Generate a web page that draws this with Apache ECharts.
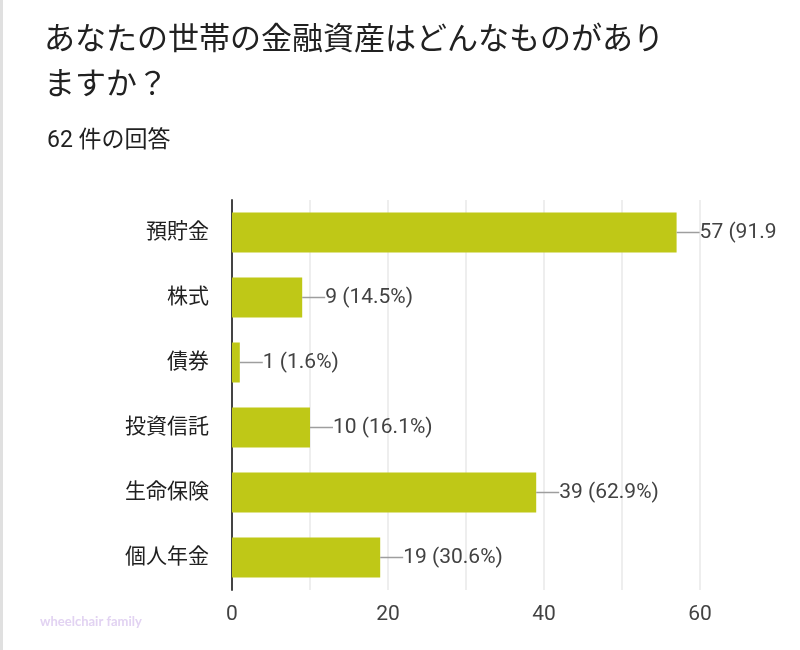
<!DOCTYPE html>
<html><head><meta charset="utf-8">
<script src="https://cdn.jsdelivr.net/npm/echarts@6/dist/echarts.min.js"></script>
<style>html,body{margin:0;padding:0;background:#fff}#c{width:800px;height:650px}</style>
</head><body><div id="c"></div>
<script>
const categories = ['預貯金', '株式', '債券', '投資信託', '生命保険', '個人年金'];
const counts = [57, 9, 1, 10, 39, 19];
const percents = ['91.9', '14.5', '1.6', '16.1', '62.9', '30.6'];
const xTicks = [0, 20, 40, 60];
const titleLines = ['あなたの世帯の金融資産はどんなものがあり', 'ますか？'];
const subtitle = '62 件の回答';
const watermark = 'wheelchair family';

const FONT = 'Roboto, "Noto Sans CJK JP", sans-serif';
const chart = echarts.init(document.getElementById('c'), null, {renderer: 'canvas'});
chart.setOption({
  backgroundColor: '#fff',
  animation: false,
  title: [
    {text: titleLines.join('\n'), left: 44, top: 19, padding: 0,
     textStyle: {fontFamily: FONT, fontSize: 31, fontWeight: 'normal', color: '#212121', lineHeight: 45}},
    {text: subtitle, left: 47, top: 130, padding: 0,
     textStyle: {fontFamily: FONT, fontSize: 23, fontWeight: 'normal', color: '#212121'}}
  ],
  grid: {left: 232, top: 200, width: 468, height: 390, containLabel: false},
  xAxis: {
    type: 'value', min: 0, max: 60, interval: 10,
    axisLine: {show: false}, axisTick: {show: false},
    splitLine: {show: true, lineStyle: {color: '#e8e8e8', width: 1.5}},
    axisLabel: {fontFamily: FONT, fontSize: 21, color: '#424242', margin: 14,
      formatter: v => xTicks.indexOf(v) >= 0 ? String(v) : ''}
  },
  yAxis: {
    type: 'category', data: categories, inverse: true,
    axisLine: {show: true, lineStyle: {color: '#444', width: 2}},
    axisTick: {show: false},
    axisLabel: {fontFamily: FONT, fontSize: 21, color: '#212121', margin: 23}
  },
  series: [{
    type: 'bar', data: counts, barWidth: 40,
    itemStyle: {color: '#bfc817'},
    label: {
      show: true, position: 'right', distance: 0,
      formatter: p => '{l|}{t|' + counts[p.dataIndex] + ' (' + percents[p.dataIndex] + '%)}',
      rich: {
        l: {width: 23, height: 1.5, backgroundColor: '#9e9e9e'},
        t: {fontFamily: FONT, fontSize: 21, color: '#424242'}
      }
    }
  }],
  graphic: [
    {type: 'rect', shape: {x: 776, y: 212, width: 24, height: 42}, style: {fill: '#fff'}, z: 100},
    {type: 'rect', shape: {x: 0, y: 0, width: 3, height: 650}, style: {fill: '#e0e0e0'}, z: 100},
    {type: 'text', left: 40, top: 615, z: 100,
     style: {text: watermark, fontFamily: 'Lato, sans-serif', fontWeight: 'bold', fontSize: 13, fill: '#e2d3f2'}}
  ]
});
</script></body></html>
